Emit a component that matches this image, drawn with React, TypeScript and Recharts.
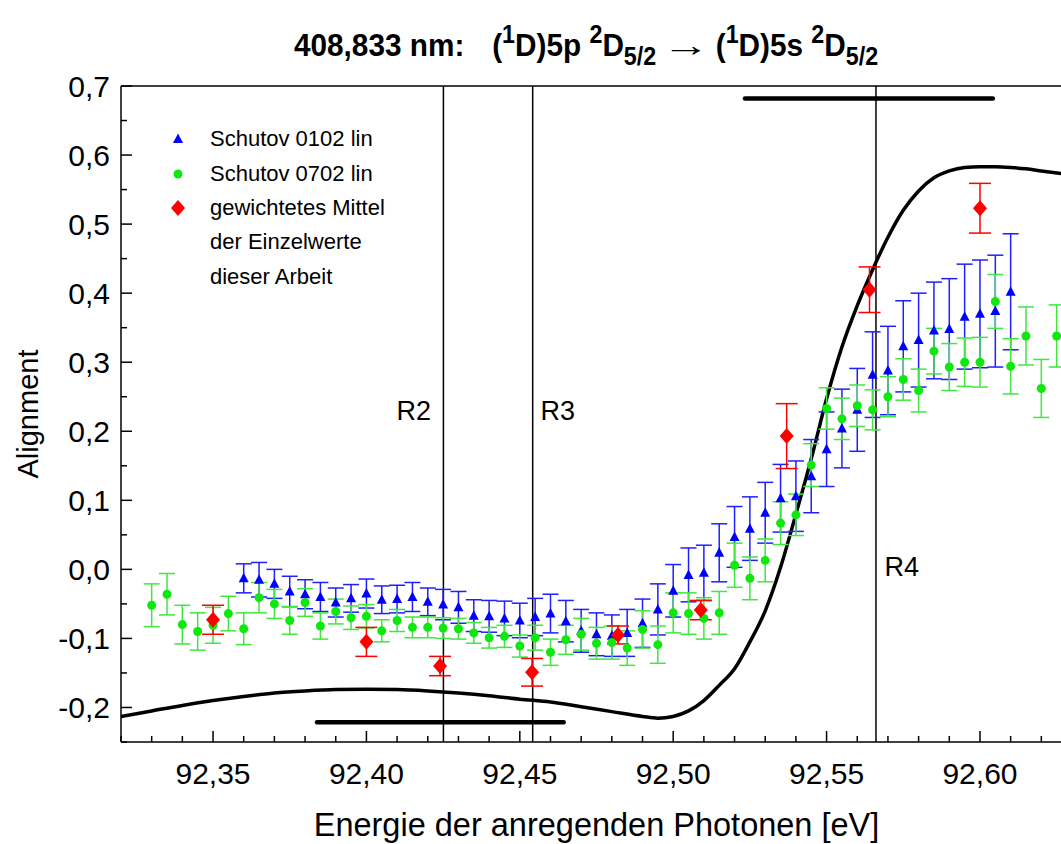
import React from 'react';
import {
  ComposedChart, XAxis, YAxis, Scatter, Line, ErrorBar, ReferenceLine, ReferenceDot, Legend,
} from 'recharts';

const FONT = '"Liberation Sans", Arial, Helvetica, sans-serif';

// [photon energy (eV), alignment, error]
const schutov0102: [number, number, number][] = [
  [92.36, -0.013, 0.021], [92.365, -0.015, 0.025], [92.37, -0.021, 0.021], [92.375, -0.032, 0.022],
  [92.38, -0.036, 0.021], [92.385, -0.04, 0.021], [92.39, -0.048, 0.021], [92.395, -0.042, 0.02],
  [92.4, -0.035, 0.021], [92.405, -0.044, 0.02], [92.41, -0.043, 0.02], [92.415, -0.04, 0.021],
  [92.42, -0.047, 0.02], [92.425, -0.051, 0.022], [92.43, -0.055, 0.023], [92.435, -0.067, 0.023],
  [92.44, -0.068, 0.023], [92.445, -0.071, 0.025], [92.45, -0.074, 0.025], [92.455, -0.069, 0.027],
  [92.46, -0.064, 0.028], [92.465, -0.075, 0.03], [92.47, -0.089, 0.031], [92.475, -0.094, 0.031],
  [92.48, -0.096, 0.03], [92.485, -0.092, 0.034], [92.49, -0.078, 0.035], [92.495, -0.058, 0.037],
  [92.5, -0.031, 0.038], [92.505, -0.008, 0.039], [92.51, -0.005, 0.04], [92.515, 0.024, 0.042],
  [92.52, 0.047, 0.044], [92.525, 0.059, 0.046], [92.53, 0.082, 0.044], [92.535, 0.103, 0.049],
  [92.54, 0.106, 0.051], [92.545, 0.135, 0.053], [92.55, 0.174, 0.054], [92.555, 0.204, 0.057],
  [92.56, 0.231, 0.06], [92.565, 0.282, 0.062], [92.57, 0.288, 0.064], [92.575, 0.323, 0.066],
  [92.58, 0.332, 0.068], [92.585, 0.346, 0.07], [92.59, 0.348, 0.073], [92.595, 0.366, 0.076],
  [92.6, 0.37, 0.078], [92.605, 0.374, 0.081], [92.61, 0.402, 0.084],
];

const schutov0702: [number, number, number][] = [
  [92.33, -0.052, 0.031], [92.335, -0.036, 0.03], [92.34, -0.08, 0.028], [92.345, -0.09, 0.027],
  [92.35, -0.081, 0.026], [92.355, -0.064, 0.025], [92.36, -0.086, 0.023], [92.365, -0.041, 0.022],
  [92.37, -0.05, 0.021], [92.375, -0.074, 0.02], [92.38, -0.048, 0.02], [92.385, -0.082, 0.019],
  [92.39, -0.061, 0.018], [92.395, -0.07, 0.017], [92.4, -0.068, 0.017], [92.405, -0.089, 0.016],
  [92.41, -0.074, 0.016], [92.415, -0.084, 0.015], [92.42, -0.084, 0.015], [92.425, -0.085, 0.015],
  [92.43, -0.086, 0.015], [92.435, -0.092, 0.015], [92.44, -0.099, 0.015], [92.445, -0.097, 0.016],
  [92.45, -0.111, 0.016], [92.455, -0.099, 0.018], [92.46, -0.12, 0.019], [92.465, -0.102, 0.021],
  [92.47, -0.094, 0.023], [92.475, -0.107, 0.023], [92.48, -0.106, 0.024], [92.485, -0.114, 0.025],
  [92.49, -0.087, 0.027], [92.495, -0.109, 0.027], [92.5, -0.063, 0.029], [92.505, -0.064, 0.03],
  [92.51, -0.071, 0.03], [92.515, -0.063, 0.031], [92.52, 0.006, 0.032], [92.525, -0.013, 0.031],
  [92.53, 0.013, 0.031], [92.535, 0.067, 0.031], [92.54, 0.079, 0.03], [92.545, 0.151, 0.031],
  [92.55, 0.233, 0.03], [92.555, 0.218, 0.03], [92.56, 0.237, 0.03], [92.565, 0.231, 0.029],
  [92.57, 0.25, 0.029], [92.575, 0.275, 0.03], [92.58, 0.259, 0.031], [92.585, 0.316, 0.033],
  [92.59, 0.293, 0.034], [92.595, 0.3, 0.035], [92.6, 0.3, 0.036], [92.605, 0.388, 0.039],
  [92.61, 0.294, 0.04], [92.615, 0.338, 0.042], [92.62, 0.262, 0.042], [92.625, 0.338, 0.045],
];

const gewichtetesMittel: [number, number, number][] = [
  [92.35, -0.073, 0.021], [92.4, -0.105, 0.021], [92.424, -0.14, 0.014], [92.454, -0.149, 0.02],
  [92.482, -0.095, 0.013], [92.509, -0.059, 0.014], [92.537, 0.193, 0.047], [92.564, 0.405, 0.033],
  [92.6, 0.523, 0.036],
];

// [photon energy (eV), alignment] theory curve
const theorie: [number, number][] = [
  [92.32, -0.213], [92.33, -0.205], [92.34, -0.197], [92.35, -0.19], [92.36, -0.184], [92.37, -0.179],
  [92.38, -0.176], [92.39, -0.174], [92.4, -0.1735], [92.41, -0.174], [92.42, -0.176], [92.43, -0.179],
  [92.44, -0.183], [92.45, -0.188], [92.46, -0.192], [92.47, -0.199], [92.48, -0.206], [92.49, -0.213],
  [92.495, -0.2155], [92.5, -0.213], [92.505, -0.205], [92.51, -0.19], [92.515, -0.168], [92.52, -0.144],
  [92.525, -0.105], [92.53, -0.06], [92.535, 0.003], [92.54, 0.08], [92.545, 0.16], [92.55, 0.247],
  [92.555, 0.322], [92.56, 0.382], [92.565, 0.434], [92.57, 0.481], [92.575, 0.52], [92.58, 0.548],
  [92.585, 0.567], [92.59, 0.577], [92.595, 0.582], [92.6, 0.583], [92.605, 0.583], [92.61, 0.582],
  [92.615, 0.58], [92.62, 0.577], [92.63, 0.571],
];

const resonanzen = [
  { name: 'R2', x: 92.4251, labelX: 92.4154, labelY: 0.23 },
  { name: 'R3', x: 92.4542, labelX: 92.4624, labelY: 0.23 },
  { name: 'R4', x: 92.5661, labelX: 92.5745, labelY: 0.004 },
];

// thick horizontal bars [x1, x2, y]
const balken: [number, number, number][] = [
  [92.3839, 92.4643, -0.2213],
  [92.5234, 92.6042, 0.682],
];

const X_DOMAIN: [number, number] = [92.32, 92.63];
const Y_DOMAIN: [number, number] = [-0.25, 0.7];

const xTicks: number[] = [];
for (let i = 0; i <= 31; i++) xTicks.push(Math.round((92.32 + i * 0.01) * 1000) / 1000);
const yTicks: number[] = [];
for (let i = 0; i <= 19; i++) yTicks.push(Math.round((-0.25 + i * 0.05) * 1000) / 1000);

const xMajor = (v: number) => Math.round(v * 100) % 5 === 0;
const yMajor = (v: number) => Math.round(v * 100) % 10 === 0;
const xFmt = (v: number) => v.toFixed(2).replace('.', ',');
const yFmt = (v: number) => (Math.abs(v) < 1e-9 ? 0 : v).toFixed(1).replace('.', ',');

const toPts = (arr: [number, number, number][]) => arr.map(([x, y, e]) => ({ x, y, e }));
const blueData = toPts(schutov0102);
const greenData = toPts(schutov0702);
const redData = toPts(gewichtetesMittel);
const curveData = theorie.map(([x, y]) => ({ x, y }));

const BLUE = '#0000ff';
const BLUE_ERR = '#1f1fff';
const GREEN = '#0ee80e';
const GREEN_ERR = '#3ee83e';
const RED = '#ff0000';

const Tri = (p: any) => (
  <polygon points={`${p.cx},${p.cy - 5.5} ${p.cx + 5},${p.cy + 4} ${p.cx - 5},${p.cy + 4}`} fill={BLUE} />
);
const Dot = (p: any) => <circle cx={p.cx} cy={p.cy} r={4.5} fill={GREEN} />;
const Diamond = (p: any) => (
  <polygon points={`${p.cx},${p.cy - 8} ${p.cx + 7},${p.cy} ${p.cx},${p.cy + 8} ${p.cx - 7},${p.cy}`} fill={RED} />
);

const BottomTick = ({ x, y, payload }: any) => {
  const major = xMajor(payload.value);
  return (
    <g>
      <line x1={x} x2={x} y1={y} y2={y - (major ? 11 : 6)} stroke="#000" strokeWidth={1.5} />
      {major && (
        <text x={x} y={y + 42} textAnchor="middle" fontSize={30} fontFamily={FONT} fill="#000">
          {xFmt(payload.value)}
        </text>
      )}
    </g>
  );
};

const TopTick = ({ x, y, payload }: any) => (
  <line x1={x} x2={x} y1={y} y2={y + (xMajor(payload.value) ? 11 : 6)} stroke="#000" strokeWidth={1.5} />
);

const LeftTick = ({ x, y, payload }: any) => {
  const major = yMajor(payload.value);
  return (
    <g>
      <line x1={x} x2={x + (major ? 11 : 6)} y1={y} y2={y} stroke="#000" strokeWidth={1.5} />
      {major && (
        <text x={x - 11} y={y} dy="0.36em" textAnchor="end" fontSize={30} fontFamily={FONT} fill="#000">
          {yFmt(payload.value)}
        </text>
      )}
    </g>
  );
};

const RightTick = ({ x, y, payload }: any) => (
  <line x1={x} x2={x - (yMajor(payload.value) ? 11 : 6)} y1={y} y2={y} stroke="#000" strokeWidth={1.5} />
);

const legendRows = [
  { label: 'Schutov 0102 lin', marker: 'tri' },
  { label: 'Schutov 0702 lin', marker: 'dot' },
  { label: 'gewichtetes Mittel', marker: 'diamond' },
  { label: 'der Einzelwerte', marker: '' },
  { label: 'dieser Arbeit', marker: '' },
];

const LegendBox = () => (
  <div style={{ fontFamily: FONT, fontSize: 22, color: '#000' }}>
    {legendRows.map((r) => (
      <div key={r.label} style={{ display: 'flex', alignItems: 'center', height: 34.4 }}>
        <svg width={42} height={34} style={{ flexShrink: 0 }}>
          {r.marker === 'tri' && <Tri cx={10} cy={17} />}
          {r.marker === 'dot' && <circle cx={10} cy={17} r={4.5} fill={GREEN} />}
          {r.marker === 'diamond' && <Diamond cx={10} cy={17} />}
        </svg>
        <span style={{ whiteSpace: 'nowrap' }}>{r.label}</span>
      </div>
    ))}
  </div>
);

const sup: React.CSSProperties = { fontSize: 25, position: 'relative', top: -13 };
const sub: React.CSSProperties = { fontSize: 25, position: 'relative', top: 9 };
const arrow: React.CSSProperties = {
  display: 'inline-block', margin: '0 17px 0 15px', transform: 'scaleX(1.6)', fontWeight: 400, lineHeight: '32px',
};

export default function App() {
  return (
    <div style={{ position: 'absolute', left: 0, top: 0, width: 1061, height: 844, overflow: 'hidden', background: '#fff' }}>
      <div
        style={{
          position: 'absolute', left: 586, top: 25, transform: 'translateX(-50%) scaleX(0.93)',
          whiteSpace: 'nowrap', fontFamily: FONT, fontWeight: 700, fontSize: 32, lineHeight: '40px', color: '#000',
        }}
      >
        408,833 nm:<span style={{ marginLeft: 30 }}>(</span><span style={sup}>1</span>D)5p <span style={sup}>2</span>D
        <span style={sub}>5/2</span>
        <span style={arrow}>&rarr;</span>(<span style={sup}>1</span>D)5s <span style={sup}>2</span>D
        <span style={sub}>5/2</span>
      </div>
      <ComposedChart width={1100} height={844} margin={{ top: 0, right: 0, bottom: 0, left: 0 }}>
        <XAxis
          dataKey="x" type="number" domain={X_DOMAIN} allowDataOverflow ticks={xTicks} interval={0}
          height={102} tickSize={0} tickMargin={0} tickLine={false} tick={<BottomTick />}
          axisLine={{ stroke: '#000', strokeWidth: 1.5 }}
          label={{ value: 'Energie der anregenden Photonen [eV]', position: 'insideBottom', offset: 8, fontSize: 32.5, fontFamily: FONT, fill: '#000' }}
        />
        <XAxis
          xAxisId="top" orientation="top" type="number" domain={X_DOMAIN} allowDataOverflow ticks={xTicks} interval={0}
          height={86} tickSize={0} tickMargin={0} tickLine={false} tick={<TopTick />}
          axisLine={{ stroke: '#000', strokeWidth: 1.5 }}
        />
        <YAxis
          dataKey="y" type="number" domain={Y_DOMAIN} allowDataOverflow ticks={yTicks} interval={0}
          width={121} tickSize={0} tickMargin={0} tickLine={false} tick={<LeftTick />}
          axisLine={{ stroke: '#000', strokeWidth: 1.5 }}
          label={{ value: 'Alignment', angle: -90, position: 'insideLeft', offset: 28, fontSize: 29, fontFamily: FONT, fill: '#000', style: { textAnchor: 'middle' } }}
        />
        <YAxis
          yAxisId="right" orientation="right" type="number" domain={Y_DOMAIN} allowDataOverflow ticks={yTicks} interval={0}
          width={28} tickSize={0} tickMargin={0} tickLine={false} tick={<RightTick />}
          axisLine={{ stroke: '#000', strokeWidth: 1.5 }}
        />

        {resonanzen.map((r) => (
          <ReferenceLine key={r.name} x={r.x} stroke="#000" strokeWidth={1.5} />
        ))}
        {balken.map(([x1, x2, y], i) => (
          <ReferenceLine key={i} segment={[{ x: x1, y }, { x: x2, y }]} stroke="#000" strokeWidth={4.5} strokeLinecap="round" />
        ))}
        {resonanzen.map((r) => (
          <ReferenceDot
            key={'l' + r.name} x={r.labelX} y={r.labelY} r={0} fill="none" stroke="none"
            label={{ value: r.name, position: 'center', fontSize: 27, fontFamily: FONT, fill: '#000' }}
          />
        ))}

        <Line
          data={curveData} dataKey="y" type="monotone" stroke="#000" strokeWidth={3.5}
          dot={false} activeDot={false} isAnimationActive={false} legendType="none"
        />
        <Scatter data={blueData} dataKey="y" shape={Tri} isAnimationActive={false}>
          <ErrorBar dataKey="e" direction="y" width={8} stroke={BLUE_ERR} strokeWidth={1.5} isAnimationActive={false} />
        </Scatter>
        <Scatter data={greenData} dataKey="y" shape={Dot} isAnimationActive={false}>
          <ErrorBar dataKey="e" direction="y" width={8} stroke={GREEN_ERR} strokeWidth={1.5} isAnimationActive={false} />
        </Scatter>
        <Scatter data={redData} dataKey="y" shape={Diamond} isAnimationActive={false}>
          <ErrorBar dataKey="e" direction="y" width={11} stroke={RED} strokeWidth={1.5} isAnimationActive={false} />
        </Scatter>

        <Legend
          layout="horizontal" verticalAlign="middle" align="center" content={<LegendBox />}
          wrapperStyle={{ position: 'absolute', left: 168, top: 122, width: 260 }}
        />
      </ComposedChart>
    </div>
  );
}
